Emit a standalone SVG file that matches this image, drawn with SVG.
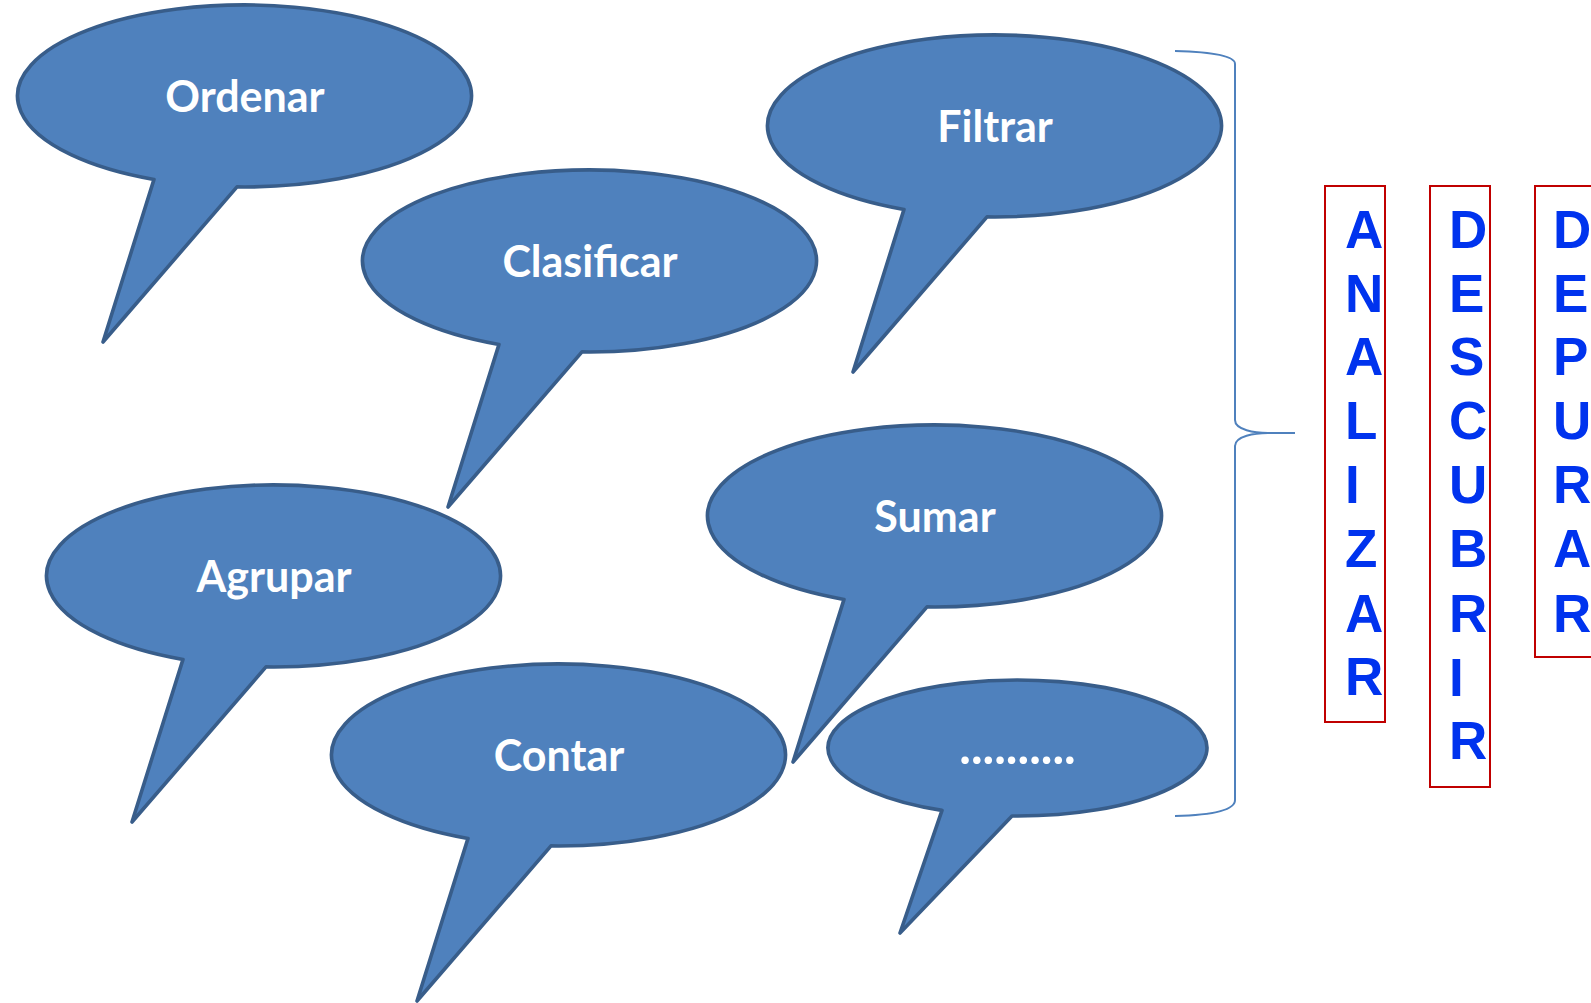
<svg xmlns="http://www.w3.org/2000/svg" xmlns:xlink="http://www.w3.org/1999/xlink" width="1591" height="1003" viewBox="0 0 1591 1003">
<style>
.bub{fill:#4F81BD;stroke:#385D8A;stroke-width:3.6;stroke-linejoin:round}
.lbl{font-family:Lato,"Open Sans",sans-serif;font-weight:bold;font-size:43px;fill:#FFFFFF;text-anchor:middle}
.dots{font-size:49px}
.box{fill:none;stroke:#C00000;stroke-width:2}
.let{font-family:"Liberation Sans",Arial,sans-serif;font-weight:bold;font-size:53px;fill:#0033EE}
.brace{fill:none;stroke:#4F81BD;stroke-width:2}
</style>
<defs>
<path id="big" d="M-91,83.4 A227,91 0 1 1 -8,90.9 L-142,246 Z"/>
<path id="small" d="M-75.5,62.4 A189.5,68 0 1 1 -5.5,68 L-117.5,185 Z"/>
</defs>
<rect width="1591" height="1003" fill="#FFFFFF"/>
<g id="connectors">
<path class="brace" d="M1175,51 C1215,52 1235,56 1235,64 L1235,420 C1235,430 1255,433 1268,433 L1295,433 M1268,433 C1255,433 1235,436 1235,446 L1235,800 C1235,810 1215,815 1175,816"/>
</g>
<g id="ordenar" transform="translate(245,96)"><use xlink:href="#big" class="bub"/><text class="lbl" x="0" y="16">Ordenar</text></g>
<g id="filtrar" transform="translate(995,126)"><use xlink:href="#big" class="bub"/><text class="lbl" x="0" y="16">Filtrar</text></g>
<g id="clasificar" transform="translate(590,261)"><use xlink:href="#big" class="bub"/><text class="lbl" x="0" y="16">Clasificar</text></g>
<g id="agrupar" transform="translate(274,576)"><use xlink:href="#big" class="bub"/><text class="lbl" x="0" y="16">Agrupar</text></g>
<g id="sumar" transform="translate(935,516)"><use xlink:href="#big" class="bub"/><text class="lbl" x="0" y="16">Sumar</text></g>
<g id="contar" transform="translate(559,755)"><use xlink:href="#big" class="bub"/><text class="lbl" x="0" y="16">Contar</text></g>
<g id="mas" transform="translate(1017.5,748)"><use xlink:href="#small" class="bub"/><text class="lbl dots" x="0" y="16">..........</text></g>
<g id="analizar">
<rect class="box" x="1325" y="186" width="60" height="536"/>
<text class="let" x="1345"><tspan x="1345" y="248">A</tspan><tspan x="1345" y="312">N</tspan><tspan x="1345" y="375">A</tspan><tspan x="1345" y="439">L</tspan><tspan x="1345" y="503">I</tspan><tspan x="1345" y="567">Z</tspan><tspan x="1345" y="632">A</tspan><tspan x="1345" y="695">R</tspan></text>
</g>
<g id="descubrir">
<rect class="box" x="1430" y="186" width="60" height="601"/>
<text class="let" x="1449"><tspan x="1449" y="248">D</tspan><tspan x="1449" y="312">E</tspan><tspan x="1449" y="375">S</tspan><tspan x="1449" y="439">C</tspan><tspan x="1449" y="503">U</tspan><tspan x="1449" y="567">B</tspan><tspan x="1449" y="632">R</tspan><tspan x="1449" y="696">I</tspan><tspan x="1449" y="759">R</tspan></text>
</g>
<g id="depurar">
<rect class="box" x="1535" y="186" width="70" height="471"/>
<text class="let" x="1553"><tspan x="1553" y="248">D</tspan><tspan x="1553" y="312">E</tspan><tspan x="1553" y="375">P</tspan><tspan x="1553" y="439">U</tspan><tspan x="1553" y="503">R</tspan><tspan x="1553" y="567">A</tspan><tspan x="1553" y="632">R</tspan></text>
</g>
</svg>
